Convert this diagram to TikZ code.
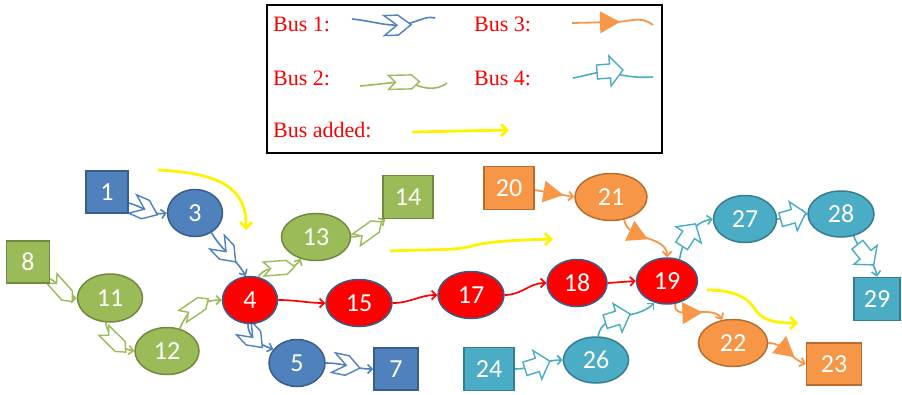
\documentclass[tikz,border=0pt]{standalone}
\usepackage{fontspec}
\setmainfont{Liberation Serif}
\newfontfamily\calibfont{Carlito}
\usetikzlibrary{shapes.geometric,decorations.markings,arrows.meta}
\definecolor{bA}{HTML}{4F81BD}\definecolor{bAd}{HTML}{385D8A}
\definecolor{bB}{HTML}{9BBB59}\definecolor{bBd}{HTML}{71893F}
\definecolor{bC}{HTML}{F79646}\definecolor{bCd}{HTML}{B66D31}
\definecolor{bD}{HTML}{4BACC6}\definecolor{bDd}{HTML}{357D91}
\newcommand\mkchev{\draw[bA,fill=white,line width=1.4pt,line join=miter] (-14pt,10pt)--(0pt,10pt)--(13pt,0pt)--(0pt,-10pt)--(-14pt,-10pt)--(-1pt,0pt)--cycle;}
\newcommand\mkpent{\draw[bB,fill=white,line width=1.4pt] (-16pt,7pt)--(7pt,7pt)--(15pt,0pt)--(7pt,-7pt)--(-16pt,-7pt)--(-9pt,0pt)--cycle;}
\newcommand\mktri{\fill[bC] (-9pt,11pt)--(11pt,0pt)--(-9pt,-11pt)--cycle;}
\newcommand\mkblk{\draw[bD,fill=white,line width=1.4pt] (-12pt,7pt)--(1pt,7pt)--(1pt,15pt)--(14pt,0pt)--(1pt,-15pt)--(1pt,-7pt)--(-12pt,-7pt)--cycle;}
\pgfdeclarelayer{bg}
\pgfsetlayers{bg,main}
\tikzset{
  lbl/.style={text=white,font=\calibfont\fontsize{26}{26}\selectfont,inner sep=0pt,line width=1.5pt},
  sqn/.style 2 args={lbl,rectangle,minimum width=#1,minimum height=#2},
  eln/.style 2 args={lbl,ellipse,minimum width=#1,minimum height=#2},
  fA/.style={fill=bA,draw=bAd},
  fB/.style={fill=bB,draw=bBd},
  fC/.style={fill=bC,draw=bCd},
  fD/.style={fill=bD,draw=bDd},
  fR/.style={fill=red,draw=bAd},
  tip/.style={-{Straight Barb[length=4.5pt,width=9pt]}},
  busA/.style={draw=bA,line width=1.6pt,postaction={decorate,decoration={markings,mark=at position #1 with {\mkchev}}}},
  busA/.default=0.5,
  busB/.style={draw=bB,line width=1.6pt,postaction={decorate,decoration={markings,mark=at position #1 with {\mkpent}}}},
  busB/.default=0.5,
  busC/.style={draw=bC,line width=1.8pt,postaction={decorate,decoration={markings,mark=at position #1 with {\mktri}}}},
  busC/.default=0.5,
  busD/.style={draw=bD,line width=1.6pt,postaction={decorate,decoration={markings,mark=at position #1 with {\mkblk}}}},
  busD/.default=0.5,
  redln/.style={draw=red,line width=1.7pt,tip},
  yel/.style={draw=yellow,line width=2.8pt,-{Straight Barb[length=6pt,width=12pt]}},
  leg/.style={text=red,font=\fontsize{22}{24}\selectfont,inner sep=0pt},
}
\begin{document}
\begin{tikzpicture}[x=1pt,y=1pt]
\useasboundingbox (0,0) rectangle (902,-394);
% legend
\node[draw=black,line width=1.5pt,minimum width=395pt,minimum height=148pt,inner sep=0pt] (legend) at (464.5,-79) {};
\node[leg,anchor=base west] (l1) at (273,-31) {Bus 1:};
\node[leg,anchor=base west] (l3) at (474,-31) {Bus 3:};
\node[leg,anchor=base west] (l2) at (273,-85) {Bus 2:};
\node[leg,anchor=base west] (l4) at (474,-85) {Bus 4:};
\node[leg,anchor=base west] (la) at (273,-137) {Bus added:};
\coordinate (a1s) at (352,-19); \coordinate (a1e) at (435,-18);
\coordinate (a2s) at (360,-86); \coordinate (a2e) at (447,-83);
\coordinate (a3s) at (572,-23); \coordinate (a3e) at (653,-25);
\coordinate (a4s) at (573,-78); \coordinate (a4e) at (653,-77);
\coordinate (ays) at (412,-132); \coordinate (aye) at (509,-130);
\draw[busA=0.55] (a1s) .. controls (372,-21) and (385,-26) .. (400,-25) .. controls (415,-24) and (425,-15) .. (a1e);
\draw[busB=0.5] (a2s) .. controls (375,-85) and (390,-82) .. (408,-82) .. controls (422,-88) and (435,-92) .. (a2e);
\draw[busC=0.45] (a3s) -- (615,-22) .. controls (630,-22) and (640,-15) .. (a3e);
\draw[busD=0.45] (a4s) .. controls (585,-76) and (595,-72) .. (610,-71) .. controls (620,-76) and (635,-78) .. (a4e);
\draw[yel] (ays) -- (aye);
% nodes
\node[sqn={42pt}{42pt},fA] (n1) at (107,-192) {1};
\node[eln={55pt}{47pt},fA] (n3) at (195,-213) {3};
\node[sqn={43pt}{42pt},fB] (n8) at (28,-262) {8};
\node[eln={65pt}{48pt},fB] (n11) at (110,-298) {11};
\node[eln={64pt}{47pt},fB] (n12) at (167,-351) {12};
\node[eln={55pt}{47pt},fR] (n4) at (250,-300) {4};
\node[eln={56pt}{47pt},fA] (n5) at (297,-363) {5};
\node[sqn={44pt}{42pt},fA] (n7) at (396,-369) {7};
\node[eln={69pt}{47pt},fB] (n13) at (316,-237) {13};
\node[sqn={50pt}{43pt},fB] (n14) at (408,-197) {14};
\node[eln={66pt}{47pt},fR] (n15) at (359,-303) {15};
\node[eln={66pt}{47pt},fR] (n17) at (471,-295) {17};
\node[eln={60pt}{47pt},fR] (n18) at (577,-283) {18};
\node[eln={61pt}{46pt},fR] (n19) at (667,-281) {19};
\node[sqn={50pt}{43pt},fC] (n20) at (509,-188) {20};
\node[eln={72pt}{47pt},fC] (n21) at (611,-197) {21};
\node[eln={69pt}{47pt},fC] (n22) at (733,-343) {22};
\node[sqn={55pt}{42pt},fC] (n23) at (834,-364) {23};
\node[sqn={50pt}{43pt},fD] (n24) at (489,-369) {24};
\node[eln={65pt}{46pt},fD] (n26) at (596,-360) {26};
\node[eln={63pt}{47pt},fD] (n27) at (745,-219) {27};
\node[eln={66pt}{46pt},fD] (n28) at (841,-214) {28};
\node[sqn={46pt}{43pt},fD] (n29) at (877,-299) {29};
% yellow coordinates
\coordinate (y1s) at (158,-170); \coordinate (y1e) at (246,-230);
\coordinate (y2s) at (390,-251); \coordinate (y2e) at (553,-239);
\coordinate (y3s) at (707,-290); \coordinate (y3e) at (798,-323);
\begin{pgfonlayer}{bg}
% bus 1
\draw[busA=0.45,tip] ([yshift=-11pt]n1.east) to[out=-15,in=190] (n3.west);
\draw[busA=0.45,tip] (n3.-50) to[out=-60,in=120] (n4.100);
\draw[busA=0.4,tip] (n4.-95) to[out=-90,in=160] (n5.150);
\draw[busA=0.45,tip] (n5.east) to[out=0,in=180] (n7.west);
% bus 2
\draw[busB=0.5,tip] ([yshift=5pt]n8.south east) to[out=-30,in=180] (n11.west);
\draw[busB=0.5,tip] (n11.-100) to[out=-80,in=170] (n12.west);
\draw[busB=0.5,tip] (n12.60) to[out=70,in=180] (n4.west);
\draw[busB=0.5,tip] (n4.70) to[out=60,in=-120] (n13.-125);
\draw[busB=0.5,tip] (n13.east) to[out=0,in=-150] ([xshift=3pt]n14.south west);
% bus 3
\draw[busC=0.45,tip] ([yshift=-2pt]n20.east) to[out=-10,in=170] (n21.west);
\draw[busC=0.35,tip] (n21.-60) to[out=-80,in=90] (n19.north);
\draw[busC=0.4,tip] (n19.-70) to[out=-100,in=120] (n22.115);
\draw[busC=0.45,tip] (n22.east) to[out=0,in=160] (n23.west);
% bus 4
\draw[busD=0.45,tip] (n19.60) to[out=80,in=190] (n27.west);
\draw[busD=0.5,tip] (n27.east) to[out=0,in=180] (n28.west);
\draw[busD=0.45,tip] (n28.-60) to[out=-70,in=100] (n29.north);
\draw[busD=0.45,tip] (n24.east) to[out=0,in=180] (n26.west);
\draw[busD=0.4,tip] (n26.85) to[out=80,in=-135] (n19.-120);
% red
\draw[redln] (n4.east) to[out=0,in=180] (n15.west);
\draw[redln] (n15.east) to[out=0,in=180] (n17.west);
\draw[redln] (n17.east) to[out=0,in=180] (n18.west);
\draw[redln] (n18.east) -- (n19.west);
\end{pgfonlayer}
% yellow
\draw[yel] (y1s) .. controls (215,-173) and (247,-185) .. (y1e);
\draw[yel] (y2s) .. controls (430,-249) and (455,-251) .. (472,-246) .. controls (490,-241) and (520,-240) .. (y2e);
\draw[yel] (y3s) .. controls (745,-290) and (752,-305) .. (757,-312) .. controls (765,-322) and (780,-323) .. (y3e);
\end{tikzpicture}
\end{document}
